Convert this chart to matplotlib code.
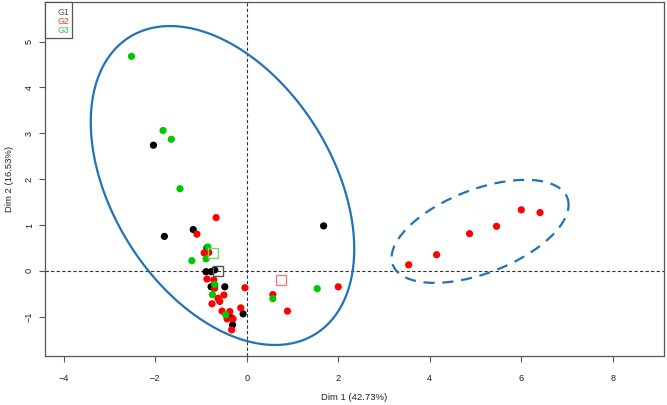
import numpy as np
import matplotlib
matplotlib.use("Agg")
import matplotlib.pyplot as plt
from matplotlib.patches import Rectangle, Polygon

plt.rcParams['font.family'] = ['Liberation Sans', 'DejaVu Sans']

# ---- data ----
g1_x = [-2.04, -1.80, -1.17, -0.87, -0.89, -0.78, -0.70, -0.78, -0.48, -0.33, -0.31, -0.08, 1.68]
g1_y = [2.74, 0.75, 0.90, 0.50, -0.02, -0.02, 0.02, -0.35, -0.35, -1.03, -1.18, -0.94, 0.98]

g2_x = [-0.67, -1.09, -0.93, -0.83, -0.87, -0.72, -0.70, -0.04, -0.63, -0.50, -0.76, -0.59,
        -0.54, -0.37, -0.43, -0.30, -0.33, -0.13, 0.57, 0.89, 2.00,
        3.54, 4.15, 4.87, 5.46, 6.00, 6.41]
g2_y = [1.16, 0.80, 0.39, 0.40, -0.18, -0.20, -0.38, -0.37, -0.60, -0.53, -0.72, -0.67,
        -0.88, -0.89, -1.05, -1.05, -1.29, -0.81, -0.52, -0.88, -0.35,
        0.13, 0.35, 0.81, 0.97, 1.33, 1.27]

g3_x = [-2.52, -1.83, -1.65, -1.46, -1.20, -0.85, -0.89, -0.75, -0.70, -0.46, 0.57, 1.54]
g3_y = [4.68, 3.06, 2.87, 1.79, 0.22, 0.52, 0.26, -0.52, -0.30, -0.96, -0.61, -0.39]

centroid_x = [-0.63, 0.74, -0.74]
centroid_y = [0.00, -0.20, 0.39]

groups = ["G1", "G2", "G3"]
colors = ["#000000", "#FF0000", "#00C800"]
centroid_colors = ["#555555", "#F08080", "#66DD66"]
legend_colors = ["#555555", "#FF3333", "#33CC33"]

# ellipses: center and covariance-like shape matrix
ell_solid_center = [-0.53, 1.86]
ell_solid_shape = [[8.29, -3.99], [-3.99, 12.11]]
ell_dash_center = [5.10, 0.86]
ell_dash_shape = [[3.74, 1.118], [1.118, 1.263]]

x_ticks = [-4, -2, 0, 2, 4, 6, 8]
y_ticks = [-1, 0, 1, 2, 3, 4, 5]
x_label = "Dim 1 (42.73%)"
y_label = "Dim 2 (16.53%)"

# ---- figure ----
W, H = 667, 405
fig = plt.figure(figsize=(W / 100, H / 100), dpi=100)
ax = fig.add_axes([45 / W, 1 - 356 / H, (664 - 45) / W, (356 - 2) / H])
ax.set_xlim(-4.41, 9.12)
ax.set_ylim(-1.86, 5.865)

ax.axhline(0, color="#333333", lw=0.8, ls=(0, (3, 2)), zorder=1)
ax.axvline(0, color="#333333", lw=0.8, ls=(0, (3, 2)), zorder=1)

t = np.linspace(0, 2 * np.pi, 400, endpoint=False)
for c, S, ls in [(ell_solid_center, ell_solid_shape, '-'), (ell_dash_center, ell_dash_shape, (0, (5, 3.5)))]:
    L = np.linalg.cholesky(np.array(S))
    pts = L @ np.vstack([np.cos(t), np.sin(t)])
    poly = Polygon(np.column_stack([c[0] + pts[0], c[1] + pts[1]]), closed=True, fill=False,
                   edgecolor="#2272B8", lw=1.6, ls=ls, zorder=2)
    ax.add_patch(poly)

for xs, ys, col in [(g1_x, g1_y, colors[0]), (g2_x, g2_y, colors[1]), (g3_x, g3_y, colors[2])]:
    ax.scatter(xs, ys, s=27, color=col, edgecolors='none', zorder=3)

for cx, cy, cc in zip(centroid_x, centroid_y, centroid_colors):
    ax.scatter([cx], [cy], s=52, marker='s', facecolors='none', edgecolors=cc, linewidths=1.0, zorder=4)

for sp in ax.spines.values():
    sp.set_color("#555555")
    sp.set_linewidth(0.9)

ax.set_xticks(x_ticks)
ax.set_yticks(y_ticks)
ax.tick_params(axis='both', direction='out', length=4, width=0.8, color="#555555",
               labelsize=6.6, labelcolor="#222222")
ax.tick_params(axis='x', pad=9)
ax.tick_params(axis='y', pad=4)
for lab in ax.get_yticklabels():
    lab.set_rotation(90)
    lab.set_va('center')

fig.text(354.5 / W, 1 - 397 / H, x_label, ha='center', va='center', fontsize=6.8, color="#222222")
fig.text(10 / W, 1 - 179 / H, y_label, ha='center', va='center', rotation=90, fontsize=6.8, color="#222222")

# legend box
leg = Rectangle((45 / W, 1 - 38 / H), 27 / W, 36 / H, transform=fig.transFigure,
                facecolor='white', edgecolor="#555555", lw=0.9, zorder=10)
fig.patches.append(leg)
for i, (g, col) in enumerate(zip(groups, legend_colors)):
    fig.text(69 / W, 1 - (12.3 + 9.3 * i) / H, g, ha='right', va='center', fontsize=6.3, color=col, zorder=11)

fig.savefig("out.png", dpi=100)
